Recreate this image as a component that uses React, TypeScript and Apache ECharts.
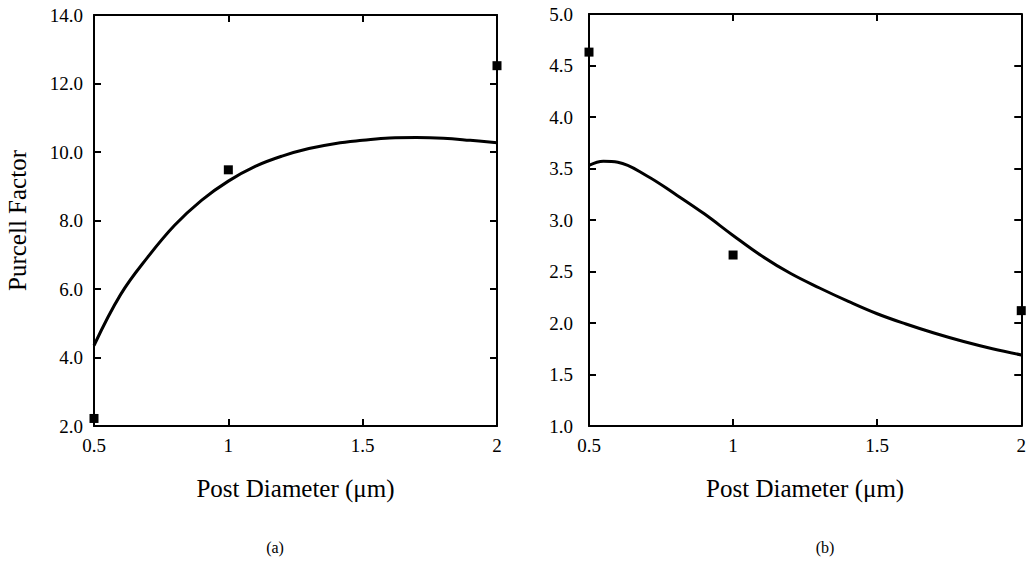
import React, { useEffect, useRef } from "react";
import * as echarts from "echarts";

// Panel (a): Purcell factor vs post diameter
const curveAX = [0.5, 0.6, 0.7, 0.8, 0.9, 1.0, 1.1, 1.2, 1.3, 1.4, 1.5, 1.6, 1.7, 1.8, 1.9, 2.0];
const curveAY = [4.35, 5.85, 6.93, 7.86, 8.59, 9.15, 9.58, 9.88, 10.1, 10.25, 10.34, 10.41, 10.42, 10.4, 10.34, 10.27];
const pointsAX = [0.5, 1.0, 2.0];
const pointsAY = [2.22, 9.48, 12.52];

// Panel (b)
const curveBX = [0.5, 0.55, 0.6, 0.7, 0.8, 0.9, 1.0, 1.1, 1.2, 1.3, 1.4, 1.5, 1.6, 1.7, 1.8, 1.9, 2.0];
const curveBY = [3.53, 3.57, 3.56, 3.43, 3.25, 3.06, 2.85, 2.65, 2.48, 2.34, 2.21, 2.09, 1.99, 1.9, 1.82, 1.75, 1.69];
const pointsBX = [0.5, 1.0, 2.0];
const pointsBY = [4.63, 2.66, 2.12];

const xTicks = [0.5, 1, 1.5, 2];
const yTicksA = [2, 4, 6, 8, 10, 12, 14];
const yTicksB = [1, 1.5, 2, 2.5, 3, 3.5, 4, 4.5, 5];

const FONT = '"Liberation Serif", "Times New Roman", serif';

const zip = (xs: number[], ys: number[]) => xs.map((x, i) => [x, ys[i]]);

export default function App() {
  const ref = useRef<HTMLDivElement>(null);
  useEffect(() => {
    document.body.style.margin = "0";
    if (!ref.current) return;
    const chart = echarts.init(ref.current, undefined, { renderer: "svg" });
    const lineStyle = { color: "#000", width: 2 };
    const tick = { show: true, inside: true, length: 7, lineStyle: { color: "#000", width: 2 } };
    const mkX = (gridIndex: number, name: string) => [
      {
        type: "value",
        gridIndex,
        min: xTicks[0],
        max: xTicks[xTicks.length - 1],
        interval: 0.5,
        position: "bottom",
        name,
        nameLocation: "middle",
        nameGap: 50,
        nameTextStyle: { fontFamily: FONT, fontSize: 25, color: "#000" },
        axisLine: { show: true, lineStyle },
        axisTick: tick,
        axisLabel: { fontFamily: FONT, fontSize: 19, color: "#000", margin: 10 },
        splitLine: { show: false },
      },
      {
        type: "value",
        gridIndex,
        min: xTicks[0],
        max: xTicks[xTicks.length - 1],
        interval: 0.5,
        position: "top",
        axisLine: { show: true, lineStyle },
        axisTick: tick,
        axisLabel: { show: false },
        splitLine: { show: false },
      },
    ];
    const mkY = (gridIndex: number, ticks: number[], interval: number, name: string, margin: number) => [
      {
        type: "value",
        gridIndex,
        min: ticks[0],
        max: ticks[ticks.length - 1],
        interval,
        position: "left",
        name,
        nameLocation: "middle",
        nameGap: 64,
        nameTextStyle: { fontFamily: FONT, fontSize: 25, color: "#000" },
        axisLine: { show: true, lineStyle },
        axisTick: tick,
        axisLabel: {
          fontFamily: FONT,
          fontSize: 19,
          color: "#000",
          margin,
          formatter: (v: number) => v.toFixed(1),
        },
        splitLine: { show: false },
      },
      {
        type: "value",
        gridIndex,
        min: ticks[0],
        max: ticks[ticks.length - 1],
        interval,
        position: "right",
        axisLine: { show: true, lineStyle },
        axisTick: tick,
        axisLabel: { show: false },
        splitLine: { show: false },
      },
    ];
    chart.setOption({
      animation: false,
      backgroundColor: "#fff",
      textStyle: { fontFamily: FONT },
      grid: [
        { left: 94, right: 532, top: 15, bottom: 136 },
        { left: 589, right: 1, top: 14, bottom: 136 },
      ],
      xAxis: [...mkX(0, "Post Diameter (\u03bcm)"), ...mkX(1, "Post Diameter (\u03bcm)")],
      yAxis: [...mkY(0, yTicksA, 2, "Purcell Factor", 11), ...mkY(1, yTicksB, 0.5, "", 16)],
      series: [
        {
          type: "line",
          xAxisIndex: 0,
          yAxisIndex: 0,
          data: zip(curveAX, curveAY),
          smooth: 0.4,
          showSymbol: false,
          lineStyle: { color: "#000", width: 3 },
        },
        {
          type: "scatter",
          xAxisIndex: 0,
          yAxisIndex: 0,
          data: zip(pointsAX, pointsAY),
          symbol: "rect",
          symbolSize: 9,
          clip: false,
          itemStyle: { color: "#000", opacity: 1 },
        },
        {
          type: "line",
          xAxisIndex: 2,
          yAxisIndex: 2,
          data: zip(curveBX, curveBY),
          smooth: 0.4,
          showSymbol: false,
          lineStyle: { color: "#000", width: 3 },
        },
        {
          type: "scatter",
          xAxisIndex: 2,
          yAxisIndex: 2,
          data: zip(pointsBX, pointsBY),
          symbol: "rect",
          symbolSize: 9,
          clip: false,
          itemStyle: { color: "#000", opacity: 1 },
        },
      ],
      graphic: [
        {
          type: "text",
          x: 275,
          y: 547,
          style: { text: "(a)", fontFamily: FONT, fontSize: 16, fill: "#000", textAlign: "center", textVerticalAlign: "middle" },
        },
        {
          type: "text",
          x: 825,
          y: 547,
          style: { text: "(b)", fontFamily: FONT, fontSize: 16, fill: "#000", textAlign: "center", textVerticalAlign: "middle" },
        },
      ],
    });
    return () => chart.dispose();
  }, []);
  return <div ref={ref} style={{ width: 1029, height: 562 }} />;
}
